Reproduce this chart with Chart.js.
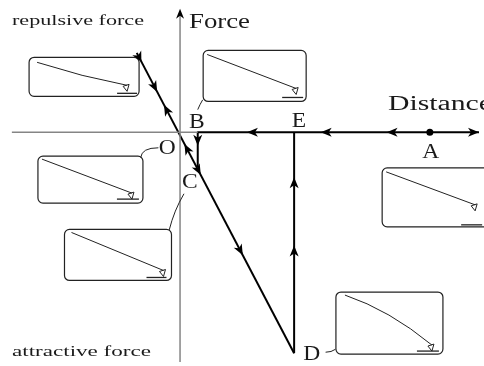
<!DOCTYPE html>
<html>
<head>
<meta charset="utf-8">
<script src="https://cdn.jsdelivr.net/npm/chart.js@4.4.0/dist/chart.umd.min.js"></script>
<style>
  html, body { margin: 0; padding: 0; background: #fff; }
  #wrap { width: 484px; height: 366px; }
</style>
</head>
<body>
<div id="wrap"><canvas id="chart" width="484" height="366"></canvas></div>
<script>
// distance (x) and force (y), origin at O
const distAxis = [{ x: -171, y: 0 }, { x: 18, y: 0 }];
const forceAxis = [{ x: 0, y: -235 }, { x: 0, y: 123 }];
const contactLine = [{ x: -44, y: 81 }, { x: 116, y: -226 }];   // top end -> D
const pullOff = [{ x: 116, y: -226 }, { x: 116, y: 0 }];         // D -> E
const approach = [{ x: 304, y: 0 }, { x: 18, y: 0 }, { x: 18, y: -35 }]; // far -> snap in -> C
const pointA = [{ x: 254, y: 0 }];

// arrow heads: fraction along the contact line and which way they point
const contactArrowsDown = [0.13, 0.407, 0.674];
const contactArrowsUp = [0.173, 0.303];
const pullOffArrowsUp = [-46, -116];     // force values on D -> E
const approachArrowsLeft = [68, 143, 210]; // distance values on the axis
const snapArrowDown = [-14];

const pointNames = ["O", "A", "B", "C", "D", "E"];
const pointLabelAt = [[-13, -22], [255, -26], [17, 4], [10, -57], [134, -233], [121, 5]];

function line(data, color, width) {
  return { data, showLine: true, borderColor: color, borderWidth: width, pointRadius: 0,
           borderJoinStyle: "round", borderCapStyle: "butt", fill: false };
}

function arrowHead(ctx, tx, ty, ang, len, half) {
  const c = Math.cos(ang), s = Math.sin(ang);
  ctx.beginPath();
  ctx.moveTo(tx, ty);
  ctx.lineTo(tx - len * c - half * s, ty - len * s + half * c);
  ctx.lineTo(tx - (len - 3) * c, ty - (len - 3) * s);
  ctx.lineTo(tx - len * c + half * s, ty - len * s - half * c);
  ctx.closePath();
  ctx.fill();
}

function stretchText(ctx, str, x, y, size, width, align) {
  ctx.font = size + 'px "Liberation Serif"';
  const w0 = ctx.measureText(str).width;
  const sx = width ? width / w0 : 1.12;
  ctx.save();
  ctx.translate(x, y);
  ctx.scale(sx, 1);
  ctx.textAlign = align || "left";
  ctx.textBaseline = "alphabetic";
  ctx.fillText(str, 0, 0);
  ctx.restore();
}

// inset sketches: box top-left (data units), size and contents in px relative to box
const insets = [
  { at: [-154, 77], w: 110, h: 39, s: [8, 5], c: [53, 19.5], e: [98, 28], surf: [88, 108, 36] },
  { at: [23, 84], w: 103, h: 51, s: [4, 4], e: [93, 38], surf: [79, 100, 47] },
  { at: [-145, -24], w: 105, h: 47, s: [4, 3], e: [94, 37], surf: [79, 101, 43] },
  { at: [-118, -99], w: 107, h: 51, s: [7, 3], e: [99, 41], surf: [82, 102, 48] },
  { at: [205, -36], w: 112, h: 59, s: [4, 4], e: [93, 37], surf: [79, 100, 57] },
  { at: [158, -163], w: 107, h: 62, s: [9, 3], c: [53.5, 18], e: [96, 53], surf: [81, 103, 59] }
];

const diagram = {
  id: "diagram",
  afterDatasetsDraw(chart) {
    const ctx = chart.ctx;
    const xs = chart.scales.x, ys = chart.scales.y;
    const P = (x, y) => [xs.getPixelForValue(x), ys.getPixelForValue(y)];
    ctx.save();

    // inset boxes
    ctx.strokeStyle = "#222";
    ctx.lineWidth = 1;
    insets.forEach(b => {
      const [x0, y0] = P(b.at[0], b.at[1]);
      const X = x0 + 0.5, Y = y0 + 0.5;
      ctx.beginPath();
      ctx.roundRect(X, Y, b.w, b.h, 5);
      ctx.lineWidth = 1.2;
      ctx.stroke();
      ctx.lineWidth = 1;
      ctx.beginPath();
      ctx.moveTo(X + b.s[0], Y + b.s[1]);
      if (b.c) ctx.quadraticCurveTo(X + b.c[0], Y + b.c[1], X + b.e[0], Y + b.e[1]);
      else ctx.lineTo(X + b.e[0], Y + b.e[1]);
      ctx.stroke();
      // tip
      const ex = X + b.e[0], ey = Y + b.e[1];
      ctx.beginPath();
      ctx.moveTo(ex - 4, ey + 1);
      ctx.lineTo(ex + 2, ey - 1);
      ctx.lineTo(ex, ey + 6);
      ctx.closePath();
      ctx.stroke();
      // surface
      ctx.lineWidth = 1.3;
      ctx.beginPath();
      ctx.moveTo(X + b.surf[0], Y + b.surf[2]);
      ctx.lineTo(X + b.surf[1], Y + b.surf[2]);
      ctx.stroke();
    });

    // connectors from labels to insets
    ctx.lineWidth = 1;
    const conn = [
      [[23, 33], [20, 28], [18, 23]],
      [[-40, -26], [-39, -16], [-22, -16]],
      [[-11, -100], [-6, -80], [4, -63]],
      [[148, -225], [154, -225], [158, -222]]
    ];
    conn.forEach(c => {
      const a = P(...c[0]), m = P(...c[1]), e = P(...c[2]);
      ctx.beginPath();
      ctx.moveTo(a[0], a[1]);
      ctx.quadraticCurveTo(m[0], m[1], e[0], e[1]);
      ctx.stroke();
    });

    // arrow heads
    ctx.fillStyle = "#000";
    const [cx0, cy0] = P(contactLine[0].x, contactLine[0].y);
    const [cx1, cy1] = P(contactLine[1].x, contactLine[1].y);
    const down = Math.atan2(cy1 - cy0, cx1 - cx0);
    contactArrowsDown.forEach(t => arrowHead(ctx, cx0 + t * (cx1 - cx0), cy0 + t * (cy1 - cy0), down, 11, 4.5));
    contactArrowsUp.forEach(t => arrowHead(ctx, cx0 + t * (cx1 - cx0), cy0 + t * (cy1 - cy0), down + Math.PI, 11, 4.5));
    // end marker at the top of the contact line
    arrowHead(ctx, cx0 + 10 * Math.cos(down), cy0 + 10 * Math.sin(down), down, 10, 5);
    pullOffArrowsUp.forEach(v => { const p = P(pullOff[0].x, v); arrowHead(ctx, p[0], p[1], -Math.PI / 2, 11, 4.5); });
    approachArrowsLeft.forEach(v => { const p = P(v, 0); arrowHead(ctx, p[0], p[1], Math.PI, 11, 4.5); });
    snapArrowDown.forEach(v => { const p = P(approach[2].x, v); arrowHead(ctx, p[0], p[1], Math.PI / 2, 11, 4.5); });
    const r = P(approach[0].x, 0);
    arrowHead(ctx, r[0], r[1], 0, 11, 4.5);
    const f = P(forceAxis[1].x, forceAxis[1].y);
    arrowHead(ctx, f[0], f[1] - 3, -Math.PI / 2, 10, 4);

    // text
    ctx.fillStyle = "#1a1a1a";
    stretchText(ctx, "Force", 189, 28, 20, 61);
    stretchText(ctx, "Distance", 388, 110, 20, 104);
    stretchText(ctx, "repulsive force", 12, 25, 14, 132);
    stretchText(ctx, "attractive force", 12, 356, 14, 139);
    pointNames.forEach((n, i) => {
      const p = P(pointLabelAt[i][0], pointLabelAt[i][1]);
      stretchText(ctx, n, p[0], p[1], 21, null, "center");
    });
    ctx.restore();
  }
};

new Chart(document.getElementById("chart"), {
  type: "scatter",
  data: {
    datasets: [
      line(distAxis, "#858585", 1.5),
      line(forceAxis, "#858585", 1.5),
      line(contactLine, "#000", 2),
      line(pullOff, "#000", 2),
      line(approach, "#000", 2),
      { data: pointA, pointRadius: 3.5, pointBackgroundColor: "#000", pointBorderWidth: 0, showLine: false }
    ]
  },
  options: {
    responsive: false,
    animation: false,
    devicePixelRatio: 1,
    events: [],
    layout: { padding: 0 },
    plugins: { legend: { display: false }, tooltip: { enabled: false } },
    scales: {
      x: { type: "linear", min: -179, max: 305, display: false },
      y: { type: "linear", min: -235, max: 131, display: false }
    }
  },
  plugins: [diagram]
});
</script>
</body>
</html>
